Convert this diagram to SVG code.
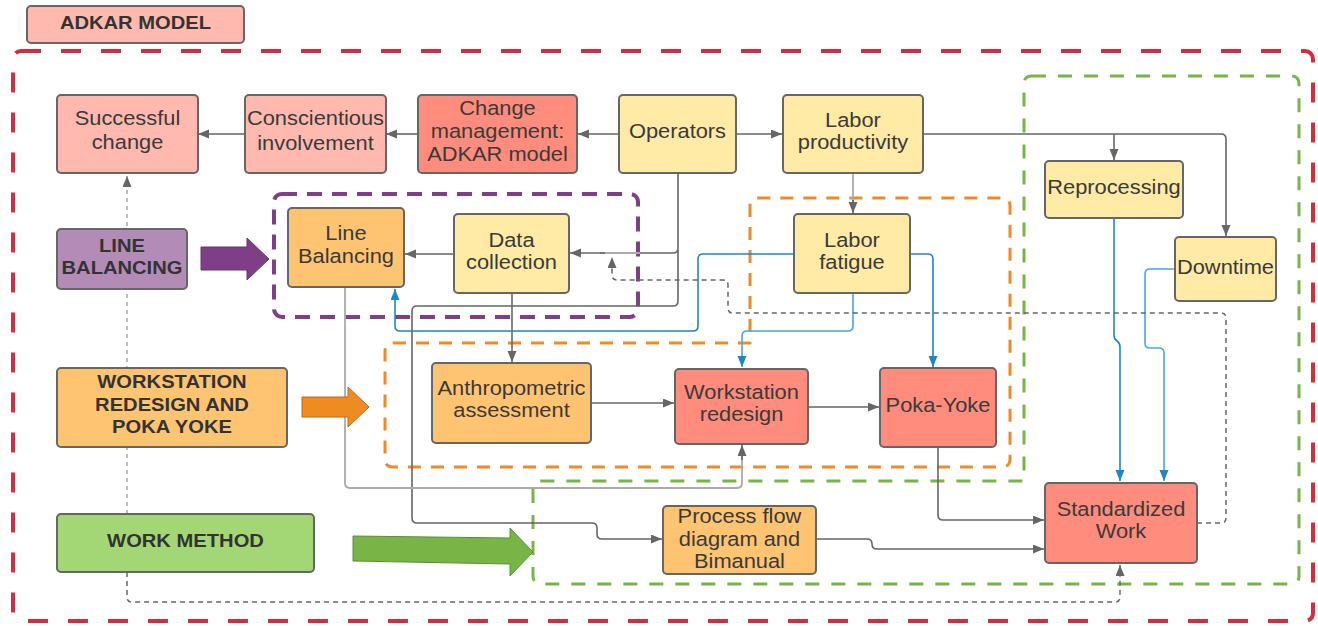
<svg xmlns="http://www.w3.org/2000/svg" width="1318" height="626" viewBox="0 0 1318 626">
<style>
.n{stroke:#666;stroke-width:2}
.pink{fill:#FFB9AF}.sal{fill:#FF8C7C}.yel{fill:#FFEAA6}.org{fill:#FFC472}.pur{fill:#B28CB7}.grn{fill:#A3D775}
.t{font-family:"Liberation Sans",Arial,sans-serif;font-size:19.5px;fill:#3a3a3a;text-anchor:middle;transform-box:fill-box;transform-origin:center;transform:scaleX(1.12)}
.b{font-family:"Liberation Sans",Arial,sans-serif;font-size:18px;font-weight:bold;fill:#333;text-anchor:middle;transform-box:fill-box;transform-origin:center;transform:scaleX(1.12)}
.c{fill:none;stroke:#666;stroke-width:1.6;stroke-linejoin:round}
.cl{fill:none;stroke:#aaa;stroke-width:1.8}
.bl{fill:none;stroke:#1B87C9;stroke-width:1.6;stroke-linejoin:round}
.bl2{fill:none;stroke:#4AA6DD;stroke-width:1.6;stroke-linejoin:round}
.d{fill:none;stroke:#666;stroke-width:1.5;stroke-dasharray:5 4}
.dl{fill:none;stroke:#bbb;stroke-width:2;stroke-dasharray:4 4}
.box{fill:none;stroke-linejoin:round}
</style>
<defs>
<marker id="ag" markerUnits="userSpaceOnUse" markerWidth="12" markerHeight="10" refX="11" refY="4.5" orient="auto"><path d="M0,0 L11,4.5 L0,9 Z" fill="#666"/></marker>
<marker id="ab" markerUnits="userSpaceOnUse" markerWidth="12" markerHeight="10" refX="11" refY="4.5" orient="auto"><path d="M0,0 L11,4.5 L0,9 Z" fill="#1B87C9"/></marker>
</defs>

<g id="containers">
<rect x="13" y="51" width="1300" height="570" rx="8" class="box" stroke="#D42E3E" stroke-width="4" stroke-dasharray="20 20"/>
<rect x="274" y="194" width="364" height="123" rx="8" class="box" stroke="#7F3F87" stroke-width="4" stroke-dasharray="15 10"/>
<path d="M393,343 H750 V206 Q750,198 758,198 H1002 Q1010,198 1010,206 V459 Q1010,467 1002,467 H393 Q385,467 385,459 V351 Q385,343 393,343 Z" class="box" stroke="#F08A26" stroke-width="3" stroke-dasharray="13 10"/>
<path d="M1032,76 H1291 Q1299,76 1299,84 V576 Q1299,584 1291,584 H541 Q533,584 533,576 V489 Q533,481 541,481 H1024 V84 Q1024,76 1032,76 Z" class="box" stroke="#79B447" stroke-width="3" stroke-dasharray="14 12"/>
</g>

<g id="connectors">
<path class="dl" d="M127,514 V176" marker-end="url(#ag)"/>
<path class="c" d="M245,134 H198" marker-end="url(#ag)"/>
<path class="c" d="M418,134 H386" marker-end="url(#ag)"/>
<path class="c" d="M619,134 H578" marker-end="url(#ag)"/>
<path class="c" d="M736,134 H782" marker-end="url(#ag)"/>
<path class="c" d="M923,134 H1221 Q1226,134 1226,139 V236" marker-end="url(#ag)"/>
<path class="c" d="M1114,134 V160" marker-end="url(#ag)"/>
<path class="cl" d="M853,173 V204"/>
<path class="c" d="M853,200 V213" marker-end="url(#ag)"/>
<path class="c" d="M678,173 V248 Q678,253 673,253 H610"/>
<path class="cl" d="M640,253 H600"/>
<path class="c" d="M605,253 H570" marker-end="url(#ag)"/>
<path class="c" d="M678,250 V301 Q678,306 673,306 H417 Q412,306 412,311 V518 Q412,523 417,523 H592 Q597,523 597,528 V534 Q597,539 602,539 H662" marker-end="url(#ag)"/>
<path class="c" d="M454,254 H405" marker-end="url(#ag)"/>
<path class="c" d="M512,293 V362" marker-end="url(#ag)"/>
<path class="c" d="M591,403 H674" marker-end="url(#ag)"/>
<path class="c" d="M808,407 H879" marker-end="url(#ag)"/>
<path class="cl" d="M345,287 V483 Q345,488 350,488 H737 Q742,488 742,483 V455"/>
<path class="c" d="M742,460 V445" marker-end="url(#ag)"/>
<path class="c" d="M938,447 V515 Q938,520 943,520 H1044" marker-end="url(#ag)"/>
<path class="c" d="M816,539 H867 Q872,539 872,544 Q872,549 877,549 H1044" marker-end="url(#ag)"/>
<path class="bl" d="M794,254 H703 Q698,254 698,259 V326 Q698,331 693,331 H400 Q395,331 395,326 V289" marker-end="url(#ab)"/>
<path class="bl2" d="M853,293 V326 Q853,331 848,331 H747 Q742,331 742,336 V367" marker-end="url(#ab)"/>
<path class="bl" d="M910,254 H928 Q933,254 933,259 V367" marker-end="url(#ab)"/>
<path class="bl" d="M1114,218 V335 Q1114,339 1117,341 Q1120,343 1120,347 V481" marker-end="url(#ab)"/>
<path class="bl2" d="M1175,269 H1150 Q1145,269 1145,274 V343 Q1145,348 1150,348 H1159 Q1164,348 1164,353 V481" marker-end="url(#ab)"/>
<path class="d" d="M1197,523 H1221 Q1226,523 1226,518 V318 Q1226,313 1221,313 H733 Q728,313 728,308 V285 Q728,280 723,280 H617 Q612,280 612,275 V257" marker-end="url(#ag)"/>
<path class="d" d="M127,572 V597 Q127,602 132,602 H1115 Q1120,602 1120,597 V565" marker-end="url(#ag)"/>
</g>

<g id="adkar-model"><rect x="27" y="6" width="217" height="37" rx="4" class="n pink"/><text class="b" x="135.5" y="29">ADKAR MODEL</text></g>
<g id="successful-change"><rect x="57" y="95" width="141" height="78" rx="4" class="n pink"/><text class="t" x="127.5" y="125"><tspan x="127.5">Successful</tspan><tspan x="127.5" y="149">change</tspan></text></g>
<g id="conscientious-involvement"><rect x="245" y="95" width="141" height="78" rx="4" class="n pink"/><text class="t" x="315.5" y="125"><tspan x="315.5">Conscientious</tspan><tspan x="315.5" y="150">involvement</tspan></text></g>
<g id="change-management"><rect x="418" y="95" width="159" height="78" rx="4" class="n sal"/><text class="t" x="497.5" y="115"><tspan x="497.5">Change</tspan><tspan x="497.5" y="138">management:</tspan><tspan x="497.5" y="161">ADKAR model</tspan></text></g>
<g id="operators"><rect x="619" y="95" width="117" height="78" rx="4" class="n yel"/><text class="t" x="677.5" y="138">Operators</text></g>
<g id="labor-productivity"><rect x="783" y="95" width="140" height="78" rx="4" class="n yel"/><text class="t" x="853" y="127"><tspan x="853">Labor</tspan><tspan x="853" y="149">productivity</tspan></text></g>
<g id="reprocessing"><rect x="1045" y="161" width="138" height="57" rx="4" class="n yel"/><text class="t" x="1114" y="194">Reprocessing</text></g>
<g id="downtime"><rect x="1175" y="237" width="101" height="64" rx="4" class="n yel"/><text class="t" x="1225.5" y="274">Downtime</text></g>
<g id="line-balancing-label"><rect x="57" y="229" width="130" height="60" rx="4" class="n pur"/><text class="b" x="122" y="252"><tspan x="122">LINE</tspan><tspan x="122" y="274">BALANCING</tspan></text></g>
<g id="line-balancing"><rect x="288" y="208" width="116" height="79" rx="4" class="n org"/><text class="t" x="346" y="240"><tspan x="346">Line</tspan><tspan x="346" y="263">Balancing</tspan></text></g>
<g id="data-collection"><rect x="454" y="214" width="115" height="79" rx="4" class="n yel"/><text class="t" x="511.5" y="247"><tspan x="511.5">Data</tspan><tspan x="511.5" y="269">collection</tspan></text></g>
<g id="labor-fatigue"><rect x="794" y="214" width="116" height="79" rx="4" class="n yel"/><text class="t" x="852" y="247"><tspan x="852">Labor</tspan><tspan x="852" y="269">fatigue</tspan></text></g>
<g id="workstation-label"><rect x="57" y="368" width="230" height="79" rx="4" class="n org"/><text class="b" x="172" y="388"><tspan x="172">WORKSTATION</tspan><tspan x="172" y="411">REDESIGN AND</tspan><tspan x="172" y="433">POKA YOKE</tspan></text></g>
<g id="anthropometric-assessment"><rect x="432" y="363" width="159" height="80" rx="4" class="n org"/><text class="t" x="511.5" y="395"><tspan x="511.5">Anthropometric</tspan><tspan x="511.5" y="417">assessment</tspan></text></g>
<g id="workstation-redesign"><rect x="675" y="369" width="133" height="75" rx="4" class="n sal"/><text class="t" x="741.5" y="399"><tspan x="741.5">Workstation</tspan><tspan x="741.5" y="421">redesign</tspan></text></g>
<g id="poka-yoke"><rect x="880" y="368" width="116" height="79" rx="4" class="n sal"/><text class="t" x="938" y="412">Poka-Yoke</text></g>
<g id="work-method"><rect x="57" y="514" width="257" height="58" rx="4" class="n grn"/><text class="b" x="185.5" y="547">WORK METHOD</text></g>
<g id="process-flow"><rect x="663" y="506" width="153" height="68" rx="4" class="n org"/><text class="t" x="739.5" y="523"><tspan x="739.5">Process flow</tspan><tspan x="739.5" y="546">diagram and</tspan><tspan x="739.5" y="568">Bimanual</tspan></text></g>
<g id="standardized-work"><rect x="1045" y="483" width="152" height="80" rx="4" class="n sal"/><text class="t" x="1121" y="516"><tspan x="1121">Standardized</tspan><tspan x="1121" y="538">Work</tspan></text></g>

<g id="block-arrows">
<polygon points="201,247 247,247 247,238 269,259 247,280 247,270 201,270" fill="#7F3F87" stroke="#6a3272" stroke-width="1" stroke-linejoin="round"/>
<polygon points="302,397 348,397 348,387 369,407 348,427 348,417 302,417" fill="#EE8B22" stroke="#b86a1a" stroke-width="1" stroke-linejoin="round"/>
<polygon points="353,536 510,538 510,528 533,552 510,576 510,564 353,561" fill="#79B447" stroke="#5d8c36" stroke-width="1" stroke-linejoin="round"/>
</g>
</svg>
